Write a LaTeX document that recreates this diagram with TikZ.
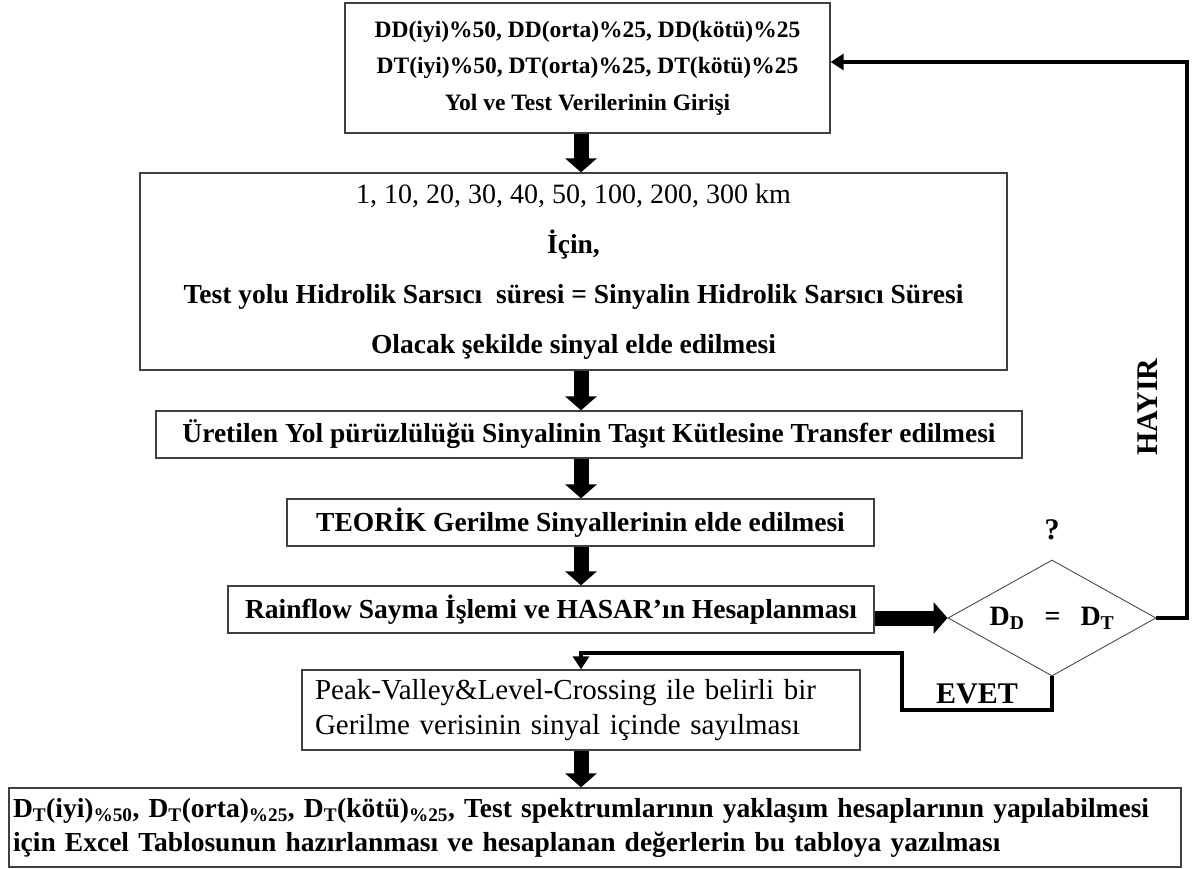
\documentclass[tikz,border=0pt]{standalone}
\usepackage{fontspec}
\setmainfont{Liberation Serif}
\usetikzlibrary{arrows.meta,shapes.geometric}

\tikzset{
  stepbox/.style={draw=black!75, line width=1.3pt, inner sep=0pt, align=center},
  bigtext/.style={font=\fontsize{27.5}{34}\selectfont\bfseries},
  fatarrow/.style={line width=15pt, -{Triangle[length=14pt,width=31pt]}},
  loopline/.style={line width=4.5pt, -{Triangle[length=13pt,width=16pt]}},
  answer/.style={font=\fontsize{30}{30}\selectfont\bfseries},
}

\begin{document}
\begin{tikzpicture}[x=1pt, y=-1pt]
    \useasboundingbox[fill=white] (0,0) rectangle (1192,869);
    \coordinate (axis) at (581,0);

    % main column
    \node[stepbox, minimum width=485pt, minimum height=130pt,
          font=\fontsize{23.5}{36.5}\selectfont\bfseries] (input) at (587.5,68)
        {DD(iyi)\%50, DD(orta)\%25, DD(kötü)\%25\\
         DT(iyi)\%50, DT(orta)\%25, DT(kötü)\%25\\
         Yol ve Test Verilerinin Girişi};
    \node[stepbox, minimum width=867pt, minimum height=197pt,
          font=\fontsize{27.5}{50}\selectfont\bfseries] (signal) at (573.5,271.5)
        {{\mdseries\fontsize{28}{50}\selectfont 1, 10, 20, 30, 40, 50, 100, 200, 300 km}\\
         İçin,\\
         Test yolu Hidrolik Sarsıcı\ \ süresi = Sinyalin Hidrolik Sarsıcı Süresi\\
         Olacak şekilde sinyal elde edilmesi};
    \node[stepbox, bigtext, minimum width=866pt, minimum height=47pt] (transfer) at (589,434.5)
        {Üretilen Yol pürüzlülüğü Sinyalinin Taşıt Kütlesine Transfer edilmesi};
    \node[stepbox, bigtext, minimum width=587pt, minimum height=47pt] (teorik) at (580.5,522.5)
        {TEORİK Gerilme Sinyallerinin elde edilmesi};
    \node[stepbox, bigtext, minimum width=646pt, minimum height=47pt] (rainflow) at (551,609.5)
        {Rainflow Sayma İşlemi ve HASAR’ın Hesaplanması};
    \node[stepbox, align=left, text width=532pt, inner xsep=13pt, minimum height=80pt,
          font=\fontsize{29}{35}\selectfont] (pv) at (581,710)
        {Peak-Valley\&Level-Crossing ile belirli bir\\
         Gerilme verisinin sinyal içinde sayılması};
    \node[stepbox, bigtext, align=left, text width=1164pt, inner xsep=4pt, minimum height=79pt] (result) at (595,827.5)
        {D\textsubscript{T}(iyi)\textsubscript{\%50}, D\textsubscript{T}(orta)\textsubscript{\%25}, D\textsubscript{T}(kötü)\textsubscript{\%25}, Test spektrumlarının yaklaşım hesaplarının yapılabilmesi\\
         için Excel Tablosunun hazırlanması ve hesaplanan değerlerin bu tabloya yazılması};

    % decision
    \node[diamond, draw=black!70, line width=0.9pt, aspect=1.8, inner sep=0pt,
          minimum width=208pt, minimum height=116pt,
          font=\fontsize{28}{28}\selectfont\bfseries] (check) at (1052,618)
        {D\textsubscript{D}\hspace{20pt}=\hspace{20pt}D\textsubscript{T}};
    \node[answer] (ask) at (1052,530) {?};
    \node[answer, rotate=90] (no) at (1148,407) {HAYIR};

    \foreach \a/\b in {input/signal, signal/transfer, transfer/teorik, teorik/rainflow, pv/result}
        \draw[fatarrow] (\a.south -| axis) -- (\b.north -| axis);
    \draw[fatarrow] (rainflow.east |- check.west) -- (check.west);

    % loops back
    \coordinate (back) at (1187,62);
    \coordinate (yes1) at (902,710);
    \coordinate (yes2) at (902,653);
    \draw[loopline] (check.east) -| (back) -- ([yshift=6pt]input.east);
    \draw[loopline] (check.south) |- node[pos=0.75, above, answer] {EVET} (yes1)
        -- (yes2) -| (pv.north);
\end{tikzpicture}
\end{document}
